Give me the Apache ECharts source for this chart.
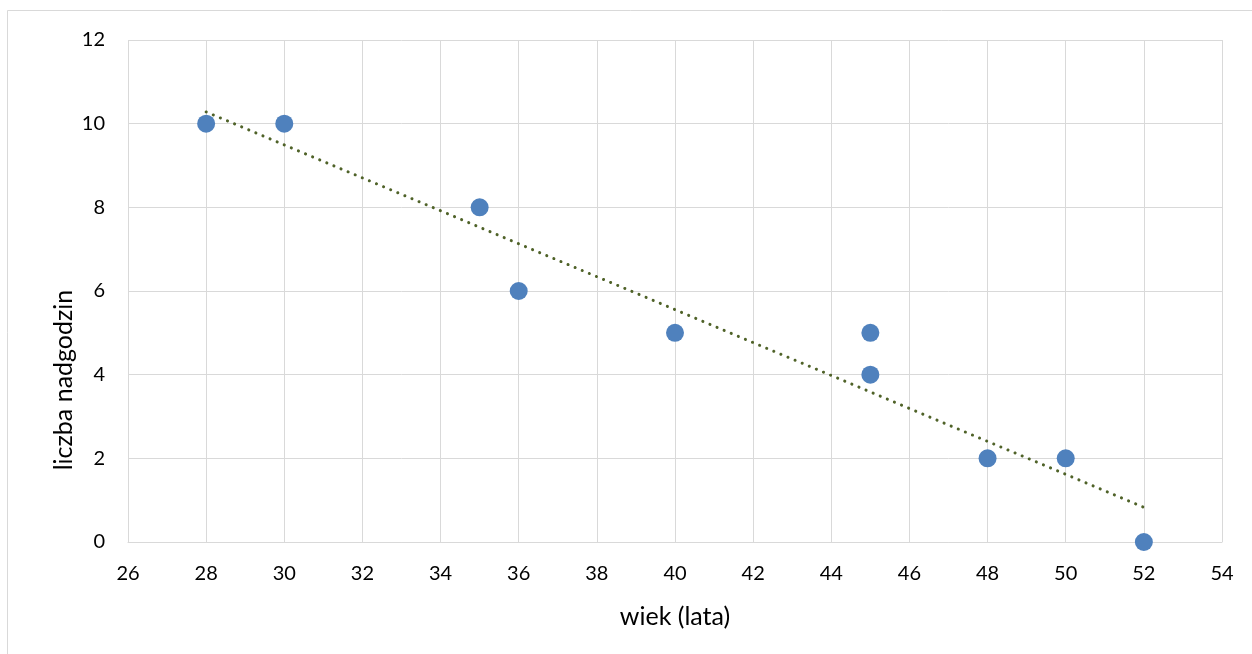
<!DOCTYPE html>
<html>
<head>
<meta charset="utf-8">
<script src="https://cdn.jsdelivr.net/npm/echarts@6/dist/echarts.min.js"></script>
<style>
html,body{margin:0;padding:0;background:#fff;}
#c{width:1252px;height:654px;}
</style>
</head>
<body>
<div id="c"></div>
<script>
// Data
const ages = [28, 30, 35, 36, 40, 45, 45, 48, 50, 52];
const overtime = [10, 10, 8, 6, 5, 5, 4, 2, 2, 0];
// Linear trendline endpoints
const trendX = [28, 52];
const trendY = [10.28, 0.83];

const xTicks = {min: 26, max: 54, interval: 2};
const yTicks = {min: 0, max: 12, interval: 2};

const xTitle = 'wiek (lata)';
const yTitle = 'liczba nadgodzin';

const points = ages.map((a, i) => [a, overtime[i]]);
const trend = trendX.map((x, i) => [x, trendY[i]]);

const FONT = 'Lato';
const chart = echarts.init(document.getElementById('c'), null, {renderer: 'canvas'});
chart.setOption({
  animation: false,
  backgroundColor: '#ffffff',
  graphic: [{
    type: 'rect',
    shape: {x: 7.5, y: 10.5, width: 1300, height: 700},
    style: {fill: 'none', stroke: '#D9D9D9', lineWidth: 1},
    silent: true
  }, {
    type: 'text',
    x: 64, y: 380,
    rotation: Math.PI / 2,
    style: {text: yTitle, font: '25px Lato', fill: '#000', align: 'center', verticalAlign: 'middle'},
    silent: true
  }],
  grid: {left: 128, top: 40, width: 1094, height: 502, containLabel: false},
  xAxis: {
    type: 'value',
    min: xTicks.min, max: xTicks.max, interval: xTicks.interval,
    name: xTitle,
    nameLocation: 'middle',
    nameGap: 62,
    nameTextStyle: {fontFamily: FONT, fontSize: 25, color: '#000'},
    axisLine: {show: true, lineStyle: {color: '#D9D9D9', width: 1}},
    axisTick: {show: false},
    axisLabel: {fontFamily: FONT, fontSize: 20, color: '#000', margin: 22},
    splitLine: {show: true, lineStyle: {color: '#D9D9D9', width: 1}}
  },
  yAxis: {
    type: 'value',
    min: yTicks.min, max: yTicks.max, interval: yTicks.interval,
    axisLine: {show: false},
    axisTick: {show: false},
    axisLabel: {fontFamily: FONT, fontSize: 20, color: '#000', margin: 23},
    splitLine: {show: true, lineStyle: {color: '#D9D9D9', width: 1}}
  },
  series: [
    {
      type: 'line',
      data: trend,
      showSymbol: false,
      symbol: 'none',
      lineStyle: {color: '#4F6228', width: 3, type: [0.1, 7.6], cap: 'round'},
      z: 3,
      silent: true
    },
    {
      type: 'scatter',
      data: points,
      symbol: 'circle',
      symbolSize: 18,
      itemStyle: {color: '#4F81BD', opacity: 1},
      z: 4
    }
  ]
});
</script>
</body>
</html>
